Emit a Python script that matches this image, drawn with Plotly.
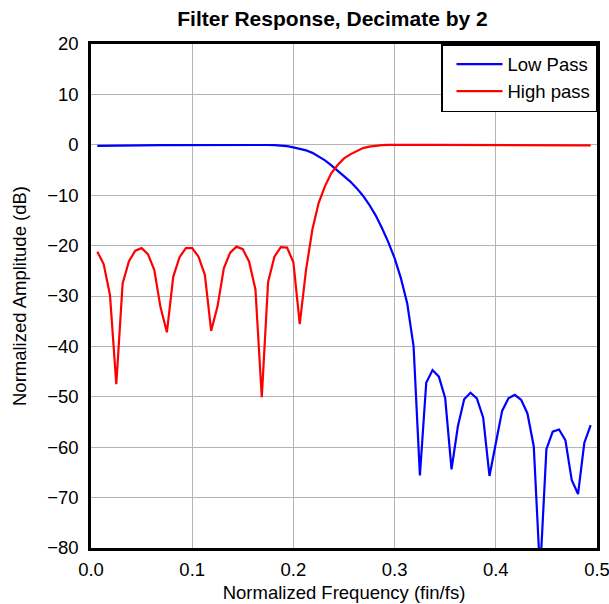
import plotly.graph_objects as go

# Normalized frequency (fin/fs) sample points
freq = [0.00625, 0.0125, 0.01875, 0.025, 0.03125, 0.0375, 0.04375, 0.05, 0.05625, 0.0625,
        0.06875, 0.075, 0.08125, 0.0875, 0.09375, 0.1, 0.10625, 0.1125, 0.11875, 0.125,
        0.13125, 0.1375, 0.14375, 0.15, 0.15625, 0.1625, 0.16875, 0.175, 0.18125, 0.1875,
        0.19375, 0.2, 0.20625, 0.2125, 0.21875, 0.225, 0.23125, 0.2375, 0.24375, 0.25,
        0.25625, 0.2625, 0.26875, 0.275, 0.28125, 0.2875, 0.29375, 0.3, 0.30625, 0.3125,
        0.31875, 0.325, 0.33125, 0.3375, 0.34375, 0.35, 0.35625, 0.3625, 0.36875, 0.375,
        0.38125, 0.3875, 0.39375, 0.4, 0.40625, 0.4125, 0.41875, 0.425, 0.43125, 0.4375,
        0.44375, 0.45, 0.45625, 0.4625, 0.46875, 0.475, 0.48125, 0.4875, 0.49375]

# Low pass response (dB)
low_pass = [-0.2, -0.2, -0.2, -0.19, -0.18, -0.16, -0.14, -0.12, -0.1, -0.08,
            -0.06, -0.05, -0.04, -0.03, -0.02, -0.02, -0.01, 0.0, 0.0, 0.01,
            0.02, 0.04, 0.05, 0.06, 0.06, 0.05, 0.02, -0.04, -0.08, -0.15,
            -0.28, -0.5, -0.75, -1.1, -1.6, -2.3, -3.1, -4.1, -5.2, -6.2,
            -7.3, -8.6, -10.1, -11.9, -14.0, -16.5, -19.3, -22.5, -26.5, -31.5,
            -40.0, -65.6, -47.2, -44.7, -46.0, -50.3, -64.4, -55.9, -50.5, -49.2,
            -50.3, -54.1, -65.7, -59.2, -52.8, -50.3, -49.6, -50.6, -53.3, -59.8,
            -85.0, -60.4, -56.9, -56.5, -58.6, -66.5, -69.3, -59.1, -55.6]

# High pass response (dB)
high_pass = [-21.2, -23.65, -29.8, -47.5, -27.5, -23.1, -21.0, -20.5, -21.7, -24.8,
             -32.3, -37.2, -26.2, -22.3, -20.5, -20.5, -22.2, -25.8, -36.9, -32.1,
             -24.5, -21.4, -20.2, -20.7, -23.2, -28.7, -50.1, -27.2, -22.2, -20.3,
             -20.4, -23.3, -35.6, -24.8, -16.8, -11.5, -8.2, -5.6, -4.0, -2.7,
             -1.9, -1.2, -0.65, -0.35, -0.15, -0.05, 0.0, 0.02, 0.03, 0.03,
             0.02, 0.0, -0.02, -0.03, -0.04, -0.04, -0.03, -0.02, -0.02, -0.03,
             -0.04, -0.05, -0.06, -0.06, -0.06, -0.07, -0.07, -0.08, -0.08, -0.08,
             -0.09, -0.09, -0.1, -0.1, -0.1, -0.11, -0.11, -0.12, -0.12]

x_ticks = [0.0, 0.1, 0.2, 0.3, 0.4, 0.5]
y_ticks = [20, 10, 0, -10, -20, -30, -40, -50, -60, -70, -80]

FONT = "Liberation Sans, Arial, sans-serif"
FS = 18.5

fig = go.Figure()
fig.add_trace(go.Scatter(x=freq, y=low_pass, mode="lines", name="Low Pass",
                         line=dict(color="#0000ff", width=2.2)))
fig.add_trace(go.Scatter(x=freq, y=high_pass, mode="lines", name="High pass",
                         line=dict(color="#ff0000", width=2.2)))

axis_common = dict(showline=True, mirror=True, linecolor="black", linewidth=2.5,
                   showgrid=True, gridcolor="#b4b4b4", gridwidth=1, zeroline=False,
                   ticks="", automargin=False, ticklabeloverflow="allow",
                   tickfont=dict(family=FONT, size=FS, color="black"),
                   title_font=dict(family=FONT, size=FS, color="black"))

fig.update_xaxes(range=[0, 0.5], tickvals=x_ticks, tickformat=".1f",
                 title_text="Normalized Frequency (fin/fs)", title_standoff=8,
                 ticklabelstandoff=3, **axis_common)
fig.update_yaxes(range=[-80, 20], tickvals=y_ticks,
                 title_text="Normalized Amplitude (dB)", title_standoff=16,
                 ticklabelstandoff=6, **axis_common)

fig.update_layout(
    width=609, height=604,
    margin=dict(l=91, r=12, t=44, b=56),
    paper_bgcolor="white", plot_bgcolor="white",
    font=dict(family=FONT, size=FS, color="black"),
    title=dict(text="<b>Filter Response, Decimate by 2</b>",
               font=dict(family=FONT, size=21, color="black"),
               x=0.546, xref="container", xanchor="center",
               y=1 - 19 / 604, yref="container", yanchor="middle"),
    legend=dict(x=1, y=1, xanchor="right", yanchor="top",
                bgcolor="white", bordercolor="black", borderwidth=1.5,
                font=dict(family=FONT, size=FS, color="black"),
                indentation=9, itemwidth=46),
    showlegend=True,
)

fig.write_html("out.html", config={"displayModeBar": False},
               post_script="document.body.style.margin='0px';document.body.style.overflow='hidden';")
